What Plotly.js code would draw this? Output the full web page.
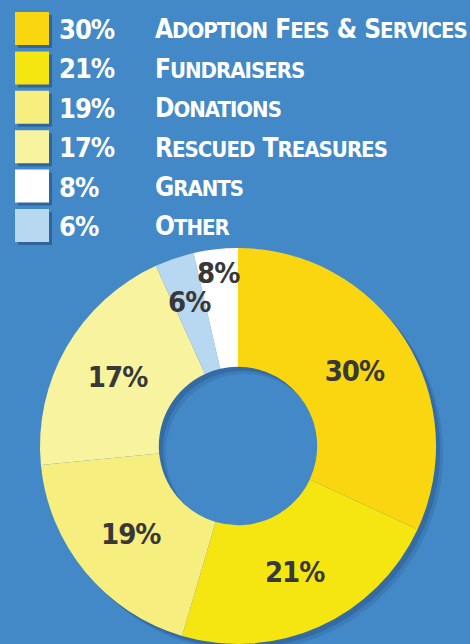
<!DOCTYPE html>
<html><head><meta charset="utf-8">
<script src="https://cdn.plot.ly/plotly-3.0.1.min.js"></script>
<style>
html,body{margin:0;padding:0;background:#4389c8;overflow:hidden;}
#wrap{width:470px;height:644px;overflow:hidden;}
#chart{width:470px;height:700px;}
</style>
</head><body><div id="wrap"><div id="chart"></div></div>
<script>
// ---- data (legend order) ----
const categories = ["Adoption Fees & Services", "Fundraisers", "Donations", "Rescued Treasures", "Grants", "Other"];
const percentLabels = ["30%", "21%", "19%", "17%", "8%", "6%"];
const colors = ["#f9d60f", "#f5e612", "#f6ee7e", "#f8f39e", "#ffffff", "#b8d7f0"];
// ---- pie order, clockwise from 12 o'clock; slice shares as drawn in the picture ----
const pieCategories = ["Adoption Fees & Services", "Fundraisers", "Donations", "Rescued Treasures", "Other", "Grants"];
const pieShares = [31.9, 22.6, 18.9, 19.7, 3.2, 3.6];

const W = 470, H = 700;
const FONT = "DejaVu Sans Condensed, DejaVu Sans, sans-serif";
const cx = 238, cy = 446, R = 198, HOLE = 0.40;
const SLICE_FONT = { family: FONT, size: 29, color: "#383838", weight: "bold" };
const tight = s => '<span style="letter-spacing:-1px">' + s + '</span>';
// small slices get their label placed at these radius fractions
const smallLabelRadius = { "Other": 0.77, "Grants": 0.88 };

function dom(x, y, r) {
  return { x: [(x - r) / W, (x + r) / W], y: [(H - y - r) / H, (H - y + r) / H] };
}
const idx = c => categories.indexOf(c);

const traces = [];
[[7, 0.12], [4, 0.18]].forEach(([o, a]) => {
  traces.push({
    type: "pie", values: [1], labels: ["s" + o], sort: false, hole: HOLE,
    marker: { colors: ["rgba(15,35,75," + a + ")"], line: { width: 0 } },
    textinfo: "none", hoverinfo: "skip", showlegend: false,
    domain: dom(cx + o, cy + o, R)
  });
});
traces.push({
  type: "pie",
  labels: pieCategories,
  values: pieShares,
  text: pieCategories.map(c => smallLabelRadius[c] ? "" : tight(percentLabels[idx(c)])),
  textinfo: "text",
  textposition: "inside",
  insidetextorientation: "horizontal",
  textfont: SLICE_FONT,
  marker: { colors: pieCategories.map(c => colors[idx(c)]), line: { width: 0 } },
  sort: false, direction: "clockwise", rotation: 0, hole: HOLE,
  showlegend: false, hoverinfo: "label",
  domain: dom(cx, cy, R)
});

function smallCaps(s, big, small) {
  return s.split(" ").map(w => {
    if (/^[A-Za-z]/.test(w)) {
      return '<span style="font-size:' + big + 'px;letter-spacing:-1px">' + w[0].toUpperCase() + '</span>' +
             '<span style="font-size:' + small + 'px;letter-spacing:-1px">' + w.slice(1).toUpperCase() + '</span>';
    }
    return '<span style="font-size:' + big + 'px;letter-spacing:-1px">' + w.replace("&", "&amp;") + '</span>';
  }).join(" ");
}

const shapes = [], annotations = [];
const rowTop = 12, rowStep = 39.4, sq = 33, sqX = 15, sqW = 34;
categories.forEach((c, i) => {
  const c0 = rowTop + i * rowStep + sq / 2;
  const y0 = 1 - (c0 - sq / 2) / H, y1 = 1 - (c0 + sq / 2) / H;
  shapes.push({ type: "rect", xref: "paper", yref: "paper",
    x0: (sqX + 3) / W, x1: (sqX + sqW + 3) / W, y0: y0 - 3 / H, y1: y1 - 3 / H,
    fillcolor: "rgba(15,35,75,0.35)", line: { width: 0 } });
  shapes.push({ type: "rect", xref: "paper", yref: "paper",
    x0: sqX / W, x1: (sqX + sqW) / W, y0: y0, y1: y1,
    fillcolor: colors[i], line: { width: 0 } });
  annotations.push({ xref: "paper", yref: "paper", x: 57 / W, y: 1 - c0 / H,
    xanchor: "left", yanchor: "middle", showarrow: false, yshift: -1,
    text: tight(percentLabels[i]), font: { family: FONT, size: 27, color: "#ffffff", weight: "bold" } });
  annotations.push({ xref: "paper", yref: "paper", x: 153 / W, y: 1 - c0 / H,
    xanchor: "left", yanchor: "middle", showarrow: false, yshift: -1,
    text: smallCaps(c, 26, 22), font: { family: FONT, size: 26, color: "#ffffff", weight: "bold" } });
});

// labels of the two thin slices, placed at their slice mid-angle
const total = pieShares.reduce((a, b) => a + b, 0);
let cum = 0;
pieCategories.forEach((c, i) => {
  const mid = (cum + pieShares[i] / 2) / total * 2 * Math.PI;
  cum += pieShares[i];
  if (!smallLabelRadius[c]) return;
  const r = R * smallLabelRadius[c];
  const px = cx + r * Math.sin(mid), py = cy - r * Math.cos(mid);
  annotations.push({ xref: "paper", yref: "paper", x: px / W, y: 1 - py / H,
    xanchor: "center", yanchor: "middle", showarrow: false,
    text: tight(percentLabels[idx(c)]), font: SLICE_FONT });
});

const layout = {
  width: W, height: H,
  margin: { l: 0, r: 0, t: 0, b: 0 },
  paper_bgcolor: "#4389c8", plot_bgcolor: "#4389c8",
  showlegend: false,
  uniformtext: { minsize: 29, mode: "show" },
  shapes: shapes, annotations: annotations
};
Plotly.newPlot("chart", traces, layout, { staticPlot: true, displayModeBar: false });
</script>
</body></html>
